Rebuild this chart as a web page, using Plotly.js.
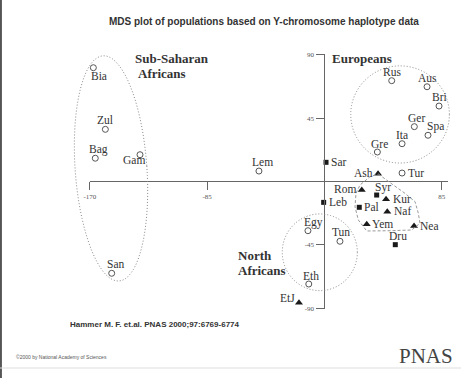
<!DOCTYPE html>
<html>
<head>
<meta charset="utf-8">
<script src="https://cdn.plot.ly/plotly-3.0.1.min.js"></script>
<style>html,body{margin:0;padding:0;background:#fff;}#chart{width:461px;height:378px;}</style>
</head>
<body>
<div id="chart"></div>
<script>
// ---- Data (MDS coordinates) ----
const circlePops = ['Bia','Zul','Bag','Gam','Lem','San','Rus','Aus','Bri','Ger','Spa','Ita','Gre','Tur','Egy','Tun','Eth'];
const circleX    = [-167.5,-158.8,-166.1,-133.7,-47.5,-154.2,48.7,74.3,83.0,65.1,75.0,56.2,38.3,56.2,-12.0,11.2,-11.4];
const circleY    = [80.7,37.0,16.5,19.0,7.4,-65.1,71.5,67.2,53.5,38.9,32.8,26.8,20.9,6.0,-34.9,-42.4,-72.7];

const squarePops = ['Sar','Leb','Syr','Pal','Dru'];
const squareX    = [1.1,-0.6,37.8,25.2,51.3];
const squareY    = [13.6,-14.8,-9.6,-18.3,-44.8];

const trianglePops = ['Ash','Rom','Kur','Naf','Yem','Nea','EtJ'];
const triangleX    = [38.8,27.0,44.6,45.5,30.6,64.9,-18.5];
const triangleY    = [5.5,-6.0,-12.6,-21.4,-30.4,-31.6,-86.0];

const xTickVals = [-170,-85,85];
const xTickText = ['-170','-85','85'];
const yTickVals = [90,45,-45,-90];
const yTickText = ['90','45','-45','-90'];

// ---- label placement (style only): [anchor, dx px, dy px up] ----
const labelPlace = {
  Bia:['c',6,-8], Zul:['c',0,9], Bag:['c',3,9], Gam:['c',-6,-5], Lem:['c',4,9], San:['c',4,9],
  Rus:['c',0,8.5], Aus:['c',0,9], Bri:['c',0,9], Ger:['c',2,8.5], Spa:['c',7,8.5], Ita:['c',0,8.5],
  Gre:['c',2,8.5], Tur:['l',5,0.5], Egy:['c',6,8.5], Tun:['c',1,9], Eth:['c',2,8.5],
  Sar:['l',4,0.5], Leb:['l',4,0.5], Syr:['c',6.5,8], Pal:['l',4,0.5], Dru:['c',2.5,9],
  Ash:['r',-4.5,0.5], Rom:['r',-5,0.5], Kur:['l',5.5,0.5], Naf:['l',6,0.5], Yem:['l',4,0.5], Nea:['l',5,0.5], EtJ:['r',-3,5]
};

const labelFont = {family:'Liberation Serif, Times New Roman, serif', size:11.5, color:'#333'};

const traces = [
  {type:'scatter', mode:'markers', name:'circle', x:circleX, y:circleY, text:circlePops,
   cliponaxis:false, hoverinfo:'skip',
   marker:{symbol:'circle-open', size:6, color:'#555', line:{width:1, color:'#555'}}},
  {type:'scatter', mode:'markers', name:'square', x:squareX, y:squareY, text:squarePops,
   cliponaxis:false, hoverinfo:'skip',
   marker:{symbol:'square', size:5, color:'#1a1a1a'}},
  {type:'scatter', mode:'markers', name:'triangle', x:triangleX, y:triangleY, text:trianglePops,
   cliponaxis:false, hoverinfo:'skip',
   marker:{symbol:'triangle-up', size:7, color:'#1a1a1a'}}
];

function pointLabels(names, xs, ys){
  return names.map((n,i)=>{
    const p = labelPlace[n] || ['c',0,8];
    return {xref:'x', yref:'y', x:xs[i], y:ys[i], text:n, showarrow:false,
            xanchor: p[0]==='c'?'center':(p[0]==='l'?'left':'right'), yanchor:'middle',
            xshift:p[1], yshift:p[2], borderpad:0, font:labelFont};
  });
}

// tilted ellipse path in data units
function ellipsePath(cx, cy, a, b, thetaDeg){
  const th = thetaDeg*Math.PI/180;
  let d = '';
  for(let i=0;i<=72;i++){
    const t = i/72*2*Math.PI;
    const ex = b*Math.cos(t), ey = a*Math.sin(t);
    const x = cx + ex*Math.cos(th) - ey*Math.sin(th);
    const y = cy + ex*Math.sin(th) + ey*Math.cos(th);
    d += (i===0?'M':'L') + x.toFixed(2) + ',' + y.toFixed(2);
  }
  return d + 'Z';
}
const blobX = [39.0,49.9,58.3,65.6,68.0,69.2,63.2,47.5,30.6,24.5,22.1,22.8,25.7,33.0];
const blobY = [5.3,-2.5,-8.4,-14.3,-22.6,-29.6,-34.4,-34.9,-35.1,-27.3,-17.9,-8.4,-2.5,3.4];
const blobPath = blobX.map((v,i)=>(i===0?'M':'L')+v+','+blobY[i]).join('') + 'Z';

const axisCol = '#666';
const dotLine = {color:'#888', width:1, dash:'1px,2px'};
const shapes = [
  {type:'line', xref:'x', yref:'y', x0:-170, x1:89.5, y0:0, y1:0, line:{color:axisCol, width:1}},
  {type:'line', xref:'x', yref:'y', x0:0, x1:0, y0:-90, y1:90, line:{color:axisCol, width:1}},
  {type:'path', xref:'x', yref:'y', path:ellipsePath(-154.7, 9.3, 80.1, 26.0, 4.2), line:dotLine},
  {type:'circle', xref:'x', yref:'y', x0:19.0, x1:90.5, y0:13.1, y1:82.0, line:dotLine},
  {type:'circle', xref:'x', yref:'y', x0:-30.6, x1:23.8, y0:-77.4, y1:-23.0, line:dotLine},
  {type:'path', xref:'x', yref:'y', path:blobPath, line:{color:'#9a9a9a', width:1, dash:'3px,2px'}},
  {type:'line', xref:'paper', yref:'paper', x0:0.002, x1:0.002, y0:0, y1:1, line:{color:'#555', width:2}},
  {type:'line', xref:'paper', yref:'paper', x0:0, x1:1, y0:1-368/378, y1:1-368/378, line:{color:'#ddd', width:1}}
];

const W = 461, H = 378;
function px(v){return v/W;}
function py(v){return 1 - v/H;}
const grpFont = {family:'Liberation Serif, Times New Roman, serif', size:13, color:'#333'};
function ann(text, x, y, xanchor, font){
  return {xref:'paper', yref:'paper', x:px(x), y:py(y), xanchor:xanchor, yanchor:'middle',
          text:text, showarrow:false, borderpad:0, font:font};
}
const annotations = [
  ann('<b>MDS plot of populations based on Y-chromosome haplotype data</b>', 263.8, 21, 'center',
      {family:'Liberation Sans, Arial, sans-serif', size:10, color:'#333'}),
  ann('<b>Sub-Saharan</b>', 134, 59, 'left', grpFont),
  ann('<b>Africans</b>', 136.5, 73, 'left', grpFont),
  ann('<b>Europeans</b>', 331, 58, 'left', grpFont),
  ann('<b>North</b>', 236.5, 255, 'left', grpFont),
  ann('<b>Africans</b>', 236.5, 270, 'left', grpFont),
  ann('<b>Hammer M. F. et.al. PNAS 2000;97:6769-6774</b>', 69, 324, 'left',
      {family:'Liberation Sans, Arial, sans-serif', size:8, color:'#333'}),
  ann('©2000 by National Academy of Sciences', 15, 357, 'left',
      {family:'Liberation Sans, Arial, sans-serif', size:5, color:'#555'}),
  ann('PNAS', 426, 356, 'center',
      {family:'Liberation Serif, Times New Roman, serif', size:21, color:'#444'})
].concat(pointLabels(circlePops, circleX, circleY),
         pointLabels(squarePops, squareX, squareY),
         pointLabels(trianglePops, triangleX, triangleY));

const tickFont = {family:'Liberation Serif, Times New Roman, serif', size:7, color:'#555'};
const layout = {
  width:W, height:H, autosize:false,
  margin:{l:0,r:0,t:0,b:0,pad:0},
  paper_bgcolor:'#ffffff', plot_bgcolor:'#ffffff',
  showlegend:false,
  xaxis:{range:[-235.14,98.91], domain:[0,1], anchor:'free', position:139.36/268.08,
         showgrid:false, zeroline:false, showline:false,
         tickmode:'array', tickvals:xTickVals, ticktext:xTickText,
         ticks:'outside', ticklen:8, tickwidth:1, tickcolor:axisCol, tickfont:tickFont, fixedrange:true},
  yaxis:{range:[-139.36,128.72], domain:[0,1], anchor:'free', position:235.14/334.05,
         showgrid:false, zeroline:false, showline:false,
         tickmode:'array', tickvals:yTickVals, ticktext:yTickText,
         ticks:'outside', ticklen:9, tickwidth:1, tickcolor:axisCol, tickfont:tickFont, fixedrange:true},
  shapes:shapes,
  annotations:annotations
};
Plotly.newPlot('chart', traces, layout, {staticPlot:true, displayModeBar:false});
</script>
</body>
</html>
